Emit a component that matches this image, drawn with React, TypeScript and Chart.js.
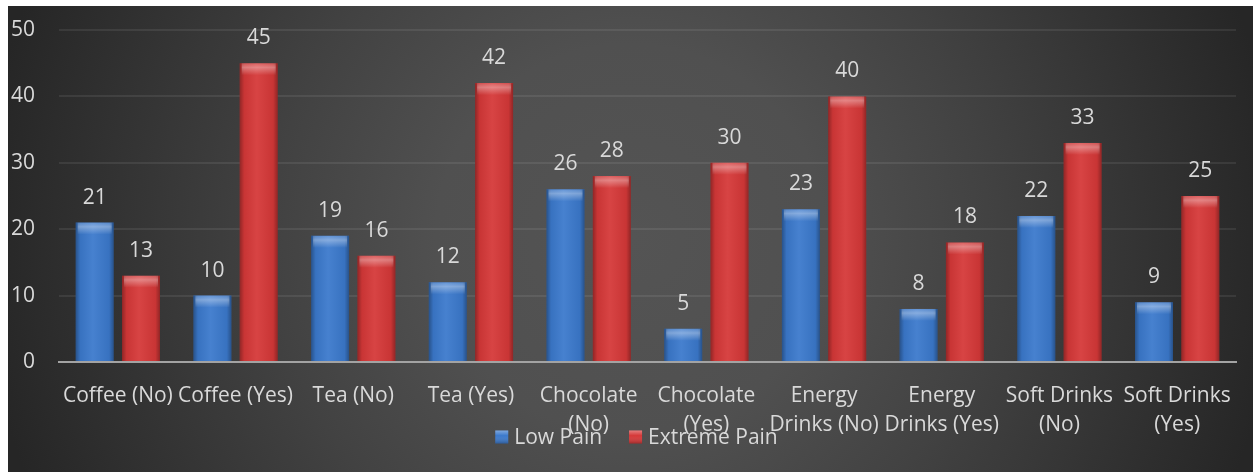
import React, { useEffect, useRef } from "react";
import { Chart, registerables } from "chart.js";

Chart.register(...registerables);

const categories: (string | string[])[] = [
  "Coffee (No)",
  "Coffee (Yes)",
  "Tea (No)",
  "Tea (Yes)",
  ["Chocolate", "(No)"],
  ["Chocolate", "(Yes)"],
  ["Energy", "Drinks (No)"],
  ["Energy", "Drinks (Yes)"],
  ["Soft Drinks", "(No)"],
  ["Soft Drinks", "(Yes)"],
];
const lowPain = [21, 10, 19, 12, 26, 5, 23, 8, 22, 9];
const extremePain = [13, 45, 16, 42, 28, 30, 40, 18, 33, 25];
const seriesNames = ["Low Pain", "Extreme Pain"];
const yTicks = [0, 10, 20, 30, 40, 50];

const FONT = "'Open Sans', sans-serif";
const TEXT = "#d9d9d9";
const BLUE = "#3b79cc";
const RED = "#d53838";

const bgPlugin = {
  id: "bgPlugin",
  beforeDraw(chart: any) {
    const { ctx, width, height } = chart;
    ctx.save();
    const cx = width / 2;
    const cy = height / 2;
    const g = ctx.createRadialGradient(cx, cy, 0, cx, cy, 650);
    g.addColorStop(0, "#545454");
    g.addColorStop(0.3, "#505050");
    g.addColorStop(0.55, "#424242");
    g.addColorStop(1, "#262626");
    ctx.fillStyle = g;
    ctx.fillRect(0, 0, width, height);
    ctx.restore();
  },
};

const barFx = {
  id: "barFx",
  afterDatasetsDraw(chart: any) {
    const ctx = chart.ctx;
    ctx.save();
    chart.data.datasets.forEach((ds: any, di: number) => {
      const meta = chart.getDatasetMeta(di);
      meta.data.forEach((el: any, i: number) => {
        const { x, y, base, width } = el.getProps(["x", "y", "base", "width"], true);
        const left = x - width / 2;
        const h = base - y;
        const hg = ctx.createLinearGradient(left, 0, left + width, 0);
        hg.addColorStop(0, "rgba(0,0,0,0.32)");
        hg.addColorStop(0.12, "rgba(0,0,0,0.06)");
        hg.addColorStop(0.45, "rgba(255,255,255,0.06)");
        hg.addColorStop(0.88, "rgba(0,0,0,0.06)");
        hg.addColorStop(1, "rgba(0,0,0,0.32)");
        ctx.fillStyle = hg;
        ctx.fillRect(left, y, width, h);
        const th = Math.min(12, h);
        const vg = ctx.createLinearGradient(0, y, 0, y + th);
        vg.addColorStop(0, "rgba(255,255,255,0.15)");
        vg.addColorStop(0.35, "rgba(255,255,255,0.35)");
        vg.addColorStop(1, "rgba(255,255,255,0)");
        ctx.fillStyle = vg;
        ctx.fillRect(left + 2, y, width - 4, th);
        ctx.fillStyle = TEXT;
        ctx.font = `21px ${FONT}`;
        ctx.textAlign = "center";
        ctx.textBaseline = "middle";
        ctx.fillText(String(ds.data[i]), x, y - 25);
      });
    });
    ctx.restore();
  },
};

const legendFx = {
  id: "legendFx",
  afterDraw(chart: any) {
    const ctx = chart.ctx;
    ctx.save();
    ctx.font = `21px ${FONT}`;
    ctx.textBaseline = "middle";
    ctx.textAlign = "left";
    const box = 13;
    const gap = 6;
    const spacing = 27;
    const labels = chart.data.datasets.map((d: any) => d.label);
    const widths = labels.map((l: string) => ctx.measureText(l).width);
    const total = widths.reduce((a: number, w: number) => a + box + gap + w, 0) + spacing * (labels.length - 1);
    let x = chart.width / 2 + 6 - total / 2;
    const cy = 431;
    labels.forEach((l: string, i: number) => {
      const color = chart.data.datasets[i].backgroundColor;
      ctx.fillStyle = color;
      ctx.fillRect(x, cy - box / 2, box, box);
      const hg = ctx.createLinearGradient(0, cy - box / 2, 0, cy + box / 2);
      hg.addColorStop(0, "rgba(255,255,255,0.35)");
      hg.addColorStop(0.4, "rgba(255,255,255,0)");
      hg.addColorStop(1, "rgba(0,0,0,0.25)");
      ctx.fillStyle = hg;
      ctx.fillRect(x, cy - box / 2, box, box);
      ctx.fillStyle = TEXT;
      ctx.fillText(l, x + box + gap, cy + 1);
      x += box + gap + widths[i] + spacing;
    });
    ctx.restore();
  },
};

export default function App() {
  const ref = useRef<HTMLCanvasElement | null>(null);
  useEffect(() => {
    if (!ref.current) return;
    const chart = new Chart(ref.current, {
      type: "bar",
      data: {
        labels: categories,
        datasets: [
          { label: seriesNames[0], data: lowPain, backgroundColor: BLUE, borderWidth: 0 },
          { label: seriesNames[1], data: extremePain, backgroundColor: RED, borderWidth: 0 },
        ],
      },
      options: {
        animation: false,
        responsive: true,
        maintainAspectRatio: false,
        layout: { padding: { top: 24, right: 17, left: 0, bottom: 0 } },
        datasets: { bar: { categoryPercentage: 0.787, barPercentage: 0.82 } },
        plugins: { legend: { display: false }, tooltip: { enabled: false } },
        scales: {
          x: {
            grid: { display: false, drawTicks: false },
            border: { display: true, color: "#a3a3a3", width: 2 },
            ticks: {
              color: TEXT,
              font: { family: FONT, size: 21, lineHeight: 1.4 },
              padding: 19,
              autoSkip: false,
              maxRotation: 0,
              minRotation: 0,
            },
            afterFit(scale: any) {
              scale.height = 110;
              scale.paddingLeft = 0;
              scale.paddingRight = 0;
            },
          },
          y: {
            min: 0,
            max: 50,
            afterBuildTicks(scale: any) {
              scale.ticks = yTicks.map((v) => ({ value: v }));
            },
            grid: { color: "rgba(255,255,255,0.08)", lineWidth: 2, drawTicks: false },
            border: { display: false },
            ticks: {
              color: TEXT,
              font: { family: FONT, size: 21 },
              padding: 24,
            },
            afterFit(scale: any) {
              scale.width = 51;
              scale.paddingTop = 0;
              scale.paddingBottom = 0;
            },
          },
        },
      },
      plugins: [bgPlugin, barFx, legendFx],
    });
    return () => chart.destroy();
  }, []);
  return (
    <div style={{ position: "absolute", left: 8, top: 6, width: 1245, height: 466 }}>
      <canvas ref={ref} />
    </div>
  );
}
